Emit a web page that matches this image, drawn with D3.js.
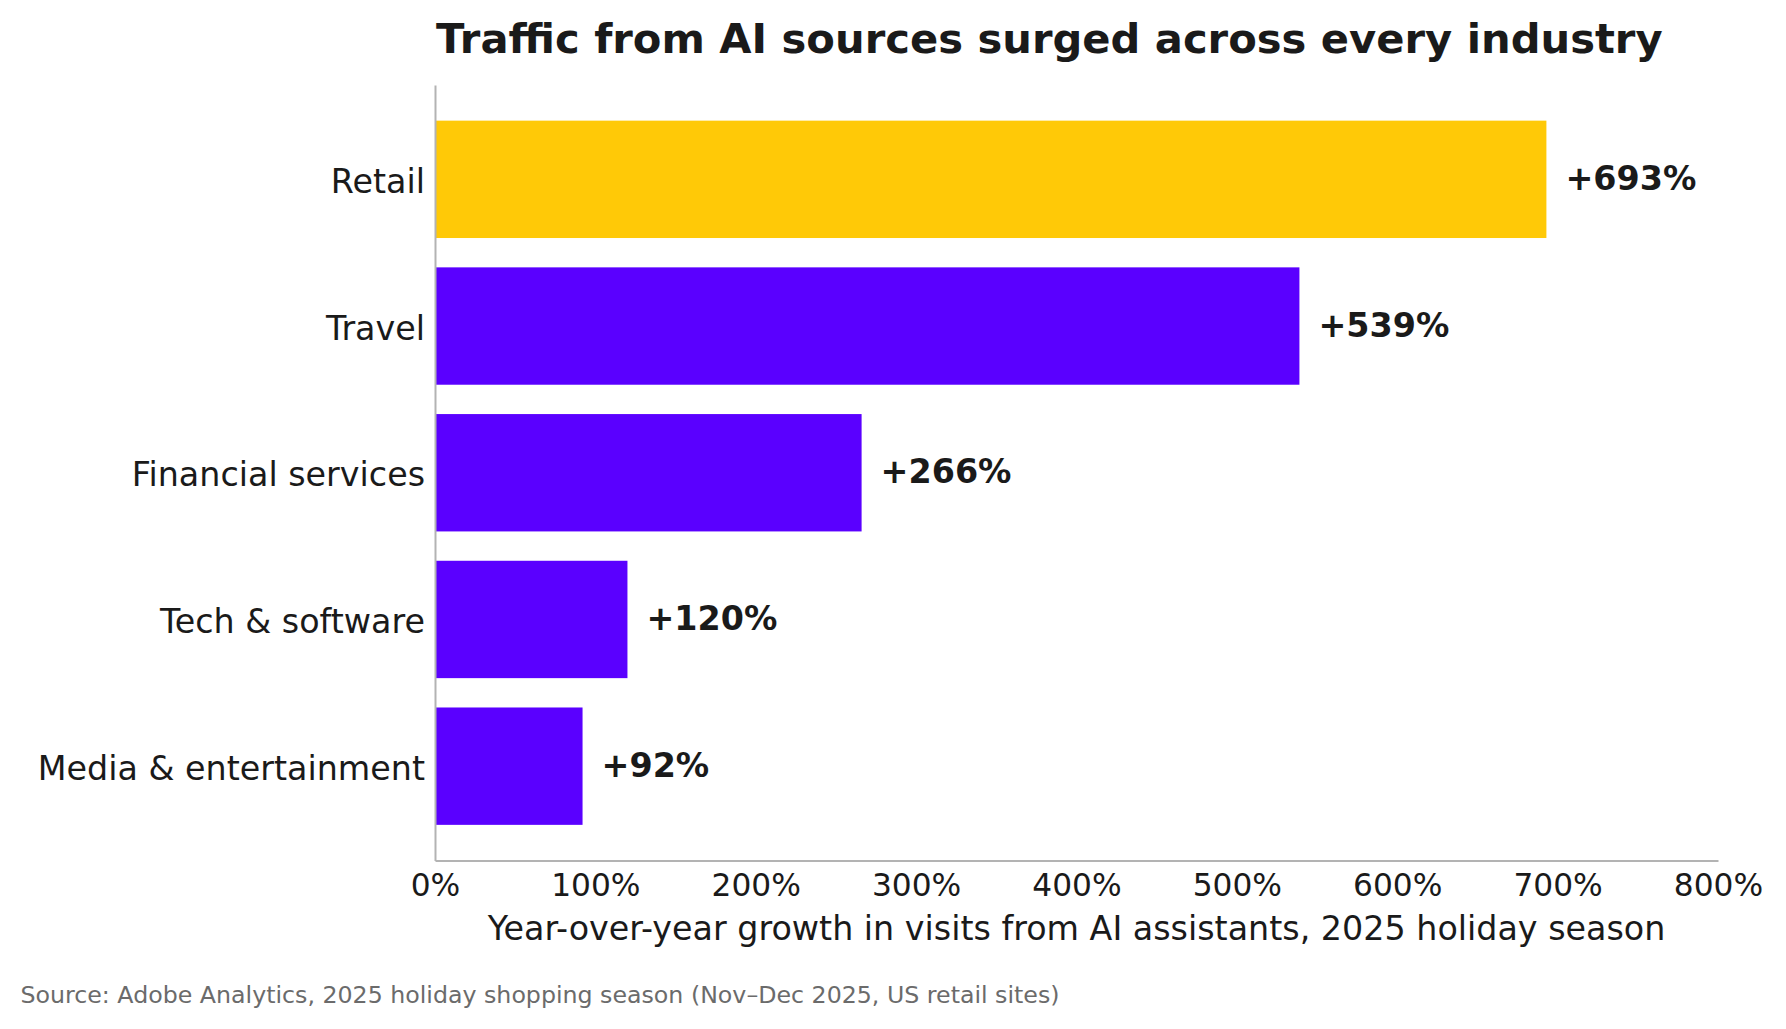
<!DOCTYPE html>
<html><head><meta charset="utf-8">
<script src="https://cdn.jsdelivr.net/npm/d3@7"></script>
<style>html,body{margin:0;padding:0;background:#fff;}svg{display:block;font-family:"DejaVu Sans",sans-serif;}</style>
</head><body>
<svg id="chart" width="1786" height="1029"></svg>
<script>
const categories = ["Retail", "Travel", "Financial services", "Tech & software", "Media & entertainment"];
const values = [693, 539, 266, 120, 92];
const highlight = ["Retail"];
const xTicks = [0, 100, 200, 300, 400, 500, 600, 700, 800];
const title = "Traffic from AI sources surged across every industry";
const xLabel = "Year-over-year growth in visits from AI assistants, 2025 holiday season";
const source = "Source: Adobe Analytics, 2025 holiday shopping season (Nov\u2013Dec 2025, US retail sites)";

const W = 1786, H = 1029;
const m = {left: 435, right: 1718, top: 85, bottom: 860.5};
const svg = d3.select("#chart");
const textColor = "#1a1a1a";
const axisColor = "#b3b3b3";

const x = d3.scaleLinear().domain([0, 800]).range([m.left, m.right]);
const y = d3.scaleBand().domain(categories).range([m.top, m.bottom]).paddingInner(0.2).paddingOuter(0.243);

// bars
svg.append("g").selectAll("rect").data(categories).join("rect")
  .attr("x", x(0))
  .attr("y", d => y(d))
  .attr("width", (d, i) => x(values[i]) - x(0))
  .attr("height", y.bandwidth())
  .attr("fill", d => highlight.includes(d) ? "#FFC907" : "#5A00FF");

// value labels
svg.append("g").selectAll("text").data(categories).join("text")
  .attr("x", (d, i) => x(values[i]) + 19)
  .attr("y", d => y(d) + y.bandwidth() / 2 + 10.7)
  .attr("font-size", 33.33)
  .attr("font-weight", "bold")
  .attr("fill", textColor)
  .text((d, i) => "+" + values[i] + "%");

// x axis
const xAxis = svg.append("g").attr("transform", `translate(0,${m.bottom})`)
  .call(d3.axisBottom(x).tickValues(xTicks).tickSize(0).tickPadding(0).tickFormat(d => d + "%"));
xAxis.select(".domain").attr("stroke", axisColor).attr("stroke-width", 2);
xAxis.selectAll("text").attr("font-size", 31.25).attr("fill", textColor)
  .attr("font-family", "DejaVu Sans").attr("dy", null).attr("y", 35.8);

// y axis
const yAxis = svg.append("g").attr("transform", `translate(${m.left},0)`)
  .call(d3.axisLeft(y).tickSize(0).tickPadding(10));
yAxis.select(".domain").attr("stroke", axisColor).attr("stroke-width", 2);
yAxis.selectAll("text").attr("font-size", 33.33).attr("fill", textColor)
  .attr("font-family", "DejaVu Sans").attr("dy", null)
  .attr("y", 13.5);

// title
svg.append("text").attr("x", m.left + 1).attr("y", 52.7)
  .attr("font-size", 41.67).attr("font-weight", "bold").attr("fill", textColor)
  .text(title);

// x label
svg.append("text").attr("x", (m.left + m.right) / 2).attr("y", 940)
  .attr("text-anchor", "middle").attr("font-size", 33.33).attr("fill", textColor)
  .text(xLabel);

// source
svg.append("text").attr("x", 20.5).attr("y", 1003.3)
  .attr("font-size", 23.7).attr("fill", "#6b6b6b")
  .text(source);
</script>
</body></html>
